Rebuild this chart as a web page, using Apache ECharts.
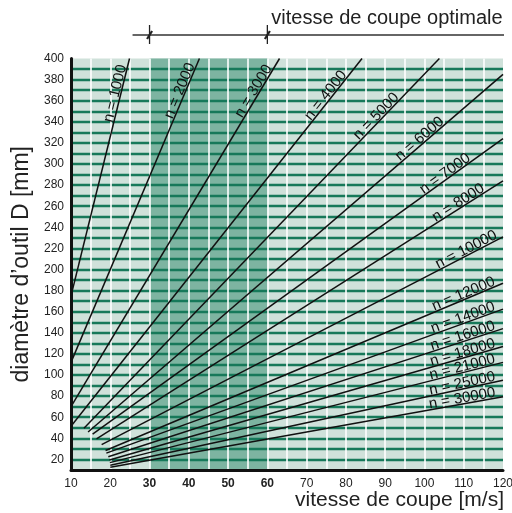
<!DOCTYPE html>
<html><head><meta charset="utf-8">
<script src="https://cdn.jsdelivr.net/npm/echarts@6/dist/echarts.min.js"></script>
<style>html,body{margin:0;padding:0;background:#fff}#c{width:512px;height:513px}</style>
</head><body><div id="c"></div>
<script>
// Data
const rpm        = [1000, 2000, 3000, 4000, 5000, 6000, 7000, 8000, 10000, 12000, 14000, 16000, 18000, 21000, 25000, 30000];
const startSpeed = [10, 10, 10, 10, 13.3, 14.35, 15.5, 16.5, 17.8, 18.8, 19.0, 19.5, 19.8, 19.9, 20, 20];
const startDiam  = [175, 112, 70, 51.5, 49.5, 46, 44, 39.5, 34, 28.5, 26, 22.5, 19.5, 17, 14.5, 12.5];
const endSpeed   = [24.9, 42.7, 63.1, 84.1, 103.8, 120, 120, 120, 120, 120, 120, 120, 120, 120, 120, 120];
const endDiam    = [400, 400, 400, 400, 400, 385, 324, 284, 231, 187, 162.5, 144, 127, 112, 95, 79.5];
const optimalRange = [30, 60];
const xTickLabels = [10, 20, 30, 40, 50, 60, 70, 80, 90, 100, 110, 120];
const boldTicks = [30, 40, 50, 60];

// label placement (pixels along line from its end)
const labelAlong = [8, 8, 12, 22, 56, 76, 38, 20, 5, 7, 7, 7, 7, 7, 7, 7];

const FONT = 'Liberation Sans, Arial, Helvetica, sans-serif';
const chart = echarts.init(document.getElementById('c'));

const lineSeries = rpm.map((n, i) => ({
  type: 'line', z: 5, silent: true, symbol: 'none',
  data: [[startSpeed[i], startDiam[i]], [endSpeed[i], endDiam[i]]],
  lineStyle: { color: '#111', width: 1.5 },
  markLine: {
    silent: true, symbol: 'none', animation: false,
    lineStyle: { color: 'rgba(0,0,0,0)', width: 0 },
    label: {
      show: true, position: 'insideEndTop', formatter: 'n = ' + n,
      distance: [labelAlong[i], -2], color: '#111', fontSize: 15, fontFamily: FONT
    },
    data: [[{ coord: [startSpeed[i], startDiam[i]] }, { coord: [endSpeed[i], endDiam[i]] }]]
  }
}));

chart.setOption({
  animation: false,
  grid: { left: 71, right: 9, top: 58.5, bottom: 43, containLabel: false, outerBoundsMode: 'none' },
  xAxis: {
    type: 'value', min: 10, max: 120, interval: 5, z: 3,
    axisLine: { show: true, onZero: false, lineStyle: { color: '#111', width: 3 } },
    axisTick: { show: false },
    axisLabel: {
      margin: 8, fontFamily: FONT, fontSize: 12, color: '#222',
      showMinLabel: true, showMaxLabel: true,
      formatter: v => xTickLabels.includes(v) ? (boldTicks.includes(v) ? '{b|' + v + '}' : '' + v) : '',
      rich: { b: { fontWeight: 'bold', fontFamily: FONT, fontSize: 12, color: '#222' } }
    },
    splitLine: { show: true, showMinLine: false, showMaxLine: false, lineStyle: { color: '#ffffff', width: 1.6 } }
  },
  yAxis: {
    type: 'value', min: 10, max: 400, interval: 10, z: 2,
    name: 'diamètre d’outil D [mm]', nameLocation: 'middle', nameGap: 38, nameRotate: 90,
    nameTextStyle: { fontFamily: FONT, fontSize: 23, color: '#222' },
    axisLine: { show: true, onZero: false, lineStyle: { color: '#111', width: 3 } },
    axisTick: { show: false },
    axisLabel: {
      margin: 7, fontFamily: FONT, fontSize: 12, color: '#222',
      formatter: v => (v % 20 === 0 ? '' + v : '')
    },
    splitLine: { show: true, showMinLine: false, showMaxLine: false, lineStyle: { color: '#17795a', width: 2.4 } }
  },
  series: [
    {
      type: 'line', z: 0, silent: true, data: [], symbol: 'none',
      markArea: {
        silent: true,
        data: [
          [{ xAxis: 10, yAxis: 10, itemStyle: { color: '#cfe1da' } }, { xAxis: 120, yAxis: 400 }],
          [{ xAxis: optimalRange[0], yAxis: 10, itemStyle: { color: '#7db4a1' } }, { xAxis: optimalRange[1], yAxis: 400 }]
        ]
      }
    }
  ].concat(lineSeries)
});

// top annotation "vitesse de coupe optimale" and x-axis title
const px30 = chart.convertToPixel({ xAxisIndex: 0 }, optimalRange[0]);
const px60 = chart.convertToPixel({ xAxisIndex: 0 }, optimalRange[1]);
const pxEnd = chart.convertToPixel({ xAxisIndex: 0 }, 120);
const yA = 35;
function tick(x) {
  return [
    { type: 'line', shape: { x1: x, y1: yA - 10, x2: x, y2: yA + 9 }, style: { stroke: '#222', lineWidth: 1.3 } },
    { type: 'line', shape: { x1: x - 2.5, y1: yA + 4, x2: x + 2.5, y2: yA - 4 }, style: { stroke: '#222', lineWidth: 2.2 } }
  ];
}
chart.setOption({
  graphic: [
    { type: 'line', shape: { x1: px30 - 17, y1: yA, x2: pxEnd + 1, y2: yA }, style: { stroke: '#333', lineWidth: 1.6 } },
    ...tick(px30), ...tick(px60),
    { type: 'text', left: px60 + 4, top: 8, style: { text: 'vitesse de coupe optimale', font: '20px ' + FONT, fill: '#222' } },
    { type: 'text', x: pxEnd + 1, y: 500, style: { text: 'vitesse de coupe [m/s]', font: '21px ' + FONT, fill: '#222', align: 'right', verticalAlign: 'middle' } }
  ]
});
</script>
</body></html>
